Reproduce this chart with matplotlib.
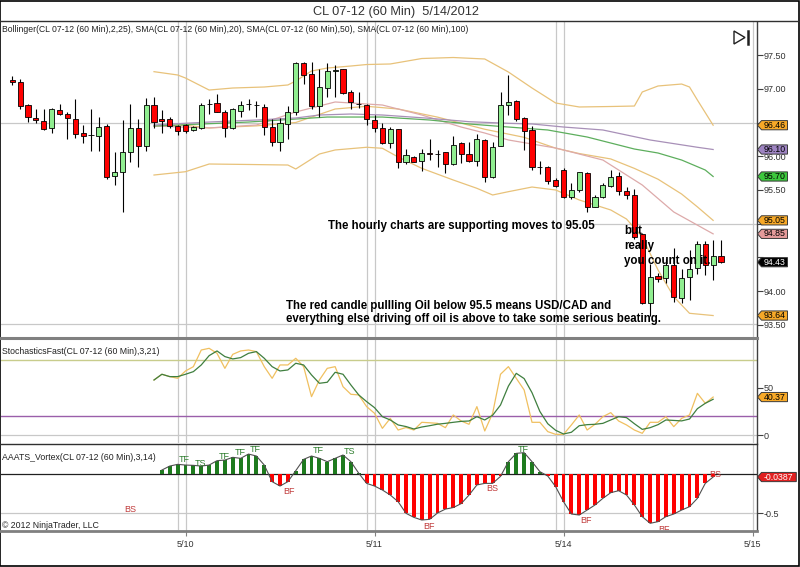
import matplotlib
matplotlib.use('Agg')
import matplotlib.pyplot as plt
import numpy as np
from matplotlib.patches import Polygon, Rectangle
from matplotlib.lines import Line2D

plt.rcParams['font.family'] = ['Liberation Sans', 'DejaVu Sans']

# ---------------- data ----------------
title = "CL 07-12 (60 Min)  5/14/2012"
date_ticks = [22, 46, 70, 94]
date_labels = ['5/10', '5/11', '5/14', '5/15']
session_lines = [21, 22, 45, 46, 69, 70, 94]
price_ticks = [93.5, 94.0, 94.5, 95.0, 95.5, 96.0, 96.5, 97.0, 97.5]
price_tick_labels = ['93.50', '94.00', '', '', '95.50', '96.00', '', '97.00', '97.50']

opens = [97.125, 97.095, 96.759, 96.567, 96.522, 96.414, 96.685, 96.62, 96.552, 96.344,
         96.315, 96.30, 96.448, 95.703, 95.762, 96.058, 96.414, 96.152, 96.759, 96.547,
         96.552, 96.448, 96.457, 96.384, 96.423, 96.77, 96.784, 96.65, 96.414, 96.675,
         96.77, 96.76, 96.735, 96.428, 96.216, 96.478, 96.66, 97.386, 97.214, 96.75,
         97.006, 97.26, 97.29, 96.947, 96.774, 96.76, 96.537, 96.423, 96.19, 96.40,
         95.91, 95.989, 95.93, 96.043, 96.04, 96.058, 95.88, 96.19, 96.033, 95.93,
         96.24, 95.697, 96.157, 96.76, 96.82, 96.562, 96.39, 95.846, 95.846, 95.648,
         95.796, 95.39, 95.50, 95.748, 95.254, 95.39, 95.56, 95.70, 95.485, 95.426,
         94.85, 93.825, 94.22, 94.19, 94.395, 93.90, 94.207, 94.34, 94.695, 94.39, 94.52]
highs = [97.194, 97.144, 96.77, 96.70, 96.70, 96.71, 96.77, 96.65, 96.843, 96.463,
         96.695, 96.577, 96.478, 96.058, 96.537, 96.77, 96.547, 96.858, 96.883, 96.685,
         96.586, 96.463, 96.473, 96.448, 96.794, 96.843, 96.922, 96.685, 96.71, 96.823,
         96.85, 96.82, 96.77, 96.547, 96.562, 96.75, 97.40, 97.40, 97.39, 97.30,
         97.377, 97.35, 97.30, 96.98, 96.947, 96.77, 96.61, 96.498, 96.438, 96.404,
         96.10, 96.004, 96.10, 96.25, 96.09, 96.068, 96.30, 96.206, 96.206, 96.33,
         96.256, 96.206, 96.947, 97.20, 96.84, 96.577, 96.448, 95.934, 95.856, 95.673,
         95.82, 95.60, 95.77, 95.763, 95.426, 95.60, 95.796, 95.77, 95.55, 95.51,
         94.86, 94.41, 94.275, 94.48, 94.636, 94.325, 94.61, 94.75, 94.75, 94.76, 94.76]
lows = [97.056, 96.695, 96.502, 96.50, 96.394, 96.35, 96.61, 96.256, 96.265, 96.20,
        96.083, 96.083, 95.658, 95.574, 95.169, 95.91, 95.846, 96.083, 96.423, 96.35,
        96.414, 96.315, 96.34, 96.379, 96.404, 96.62, 96.65, 96.29, 96.404, 96.586,
        96.68, 96.586, 96.315, 96.157, 96.083, 96.256, 96.61, 97.07, 96.695, 96.577,
        96.873, 96.88, 96.92, 96.695, 96.71, 96.463, 96.354, 96.18, 96.127, 95.82,
        95.88, 95.91, 95.78, 95.944, 95.846, 95.747, 95.87, 95.895, 95.91, 95.856,
        95.62, 95.68, 96.157, 96.61, 96.527, 96.093, 95.796, 95.737, 95.59, 95.55,
        95.377, 95.363, 95.475, 95.18, 95.244, 95.377, 95.54, 95.426, 95.363, 94.77,
        93.81, 93.633, 94.13, 94.12, 93.84, 93.83, 93.87, 94.256, 94.24, 94.17, 94.42]
closes = [97.105, 96.744, 96.577, 96.532, 96.404, 96.70, 96.631, 96.56, 96.33, 96.305,
          96.31, 96.438, 95.698, 95.762, 96.058, 96.414, 96.152, 96.759, 96.512, 96.527,
          96.448, 96.374, 96.374, 96.438, 96.759, 96.768, 96.66, 96.414, 96.695, 96.759,
          96.77, 96.755, 96.438, 96.206, 96.498, 96.66, 97.386, 97.204, 96.744, 97.02,
          97.263, 97.28, 96.93, 96.80, 96.772, 96.547, 96.423, 96.19, 96.404, 95.92,
          96.02, 95.92, 96.043, 96.03, 96.03, 95.88, 96.167, 96.033, 95.934, 96.25,
          95.697, 96.14, 96.76, 96.81, 96.547, 96.38, 95.836, 95.844, 95.638, 95.56,
          95.40, 95.50, 95.763, 95.254, 95.40, 95.574, 95.69, 95.49, 95.426, 94.80,
          93.825, 94.21, 94.18, 94.395, 93.915, 94.20, 94.33, 94.70, 94.39, 94.52, 94.43]

# Bollinger(2,25) and SMAs, read as (bar, price) points
bb_upper_x = [18, 21, 22, 25, 28, 32, 35, 36, 38, 40, 43, 45, 48, 52, 56, 60, 63, 66, 69, 72, 76, 79, 80, 82, 85, 86, 87, 89]
bb_upper_y = [97.253, 97.204, 97.159, 96.981, 97.011, 97.026, 97.056, 97.115, 97.263, 97.307, 97.337, 97.359,
              97.367, 97.448, 97.463, 97.441, 97.248, 97.011, 96.789, 96.730, 96.737, 96.744, 96.952, 97.041,
              97.070, 97.026, 96.833, 96.46]
bb_lower_x = [18, 22, 25, 30, 35, 36, 39, 41, 45, 47, 49, 52, 56, 59, 61, 63, 66, 69, 72, 76, 78, 79, 80, 82, 84, 86, 89]
bb_lower_y = [95.722, 95.771, 95.885, 95.878, 95.870, 95.811, 96.033, 96.093, 96.133, 96.118, 95.989, 95.821,
              95.648, 95.525, 95.426, 95.475, 95.544, 95.50, 95.352, 95.204, 95.07, 94.937, 94.804, 94.315,
              93.919, 93.673, 93.64]
bb_mid_x = [18, 22, 25, 31, 36, 41, 45, 49, 54, 60, 65, 69, 72, 76, 79, 82, 85, 87, 89]
bb_mid_y = [96.45, 96.46, 96.42, 96.45, 96.50, 96.70, 96.74, 96.70, 96.58, 96.40, 96.28, 96.12, 96.04,
            95.96, 95.82, 95.66, 95.44, 95.25, 95.05]
sma20_x = [18, 25, 31, 36, 41, 47, 52, 57, 60, 63, 69, 75, 80, 84, 89]
sma20_y = [96.448, 96.419, 96.463, 96.656, 96.804, 96.759, 96.611, 96.433, 96.344, 96.241, 96.122, 95.944,
           95.574, 95.174, 94.85]
sma50_x = [18, 30, 40, 47, 53, 58, 63, 68, 73, 79, 82, 85, 88, 89]
sma50_y = [96.448, 96.507, 96.581, 96.581, 96.537, 96.478, 96.433, 96.389, 96.285, 96.107, 96.048, 95.944,
           95.796, 95.70]
sma100_x = [18, 25, 31, 36, 39, 43, 47, 53, 58, 63, 66, 70, 75, 81, 87, 89]
sma100_y = [96.463, 96.507, 96.537, 96.567, 96.611, 96.626, 96.611, 96.562, 96.512, 96.488, 96.478, 96.433,
            96.389, 96.241, 96.133, 96.10]
user_lines = [96.5, 93.51]
user_line_partial = 95.0

# StochasticsFast(3,21), bars 18..89
stoch_start = 18
stoch_k = [58.5, 64.6, 62.1, 60.3, 68.1, 72.7, 90.4, 92.2, 86.9, 70.9, 85.8, 89.4, 90.4, 88.7, 72.7, 60.3,
           74.5, 74.5, 81.6, 72.7, 40.8, 58.5, 70.9, 72.7, 51.4, 43.3, 42.6, 30.2, 23.1, 7.1, 17.7, 5.3,
           8.0, 5.3, 13.5, 13.0, 12.4, 7.8, 21.3, 14.9, 11.4, 30.2, 4.3, 23.1, 64.6, 72.7, 60.3, 47.9,
           13.5, 13.5, 3.6, 0.7, 0.7, 10.7, 21.3, 5.3, 11.4, 19.5, 23.8, 14.9, 10.7, 5.3, 1.8, 13.5,
           13.5, 19.5, 8.9, 17.7, 21.3, 44.3, 33.7, 40.37]
stoch_d = [58.5, 64.6, 62.1, 62.1, 64.6, 67.4, 74.5, 84.4, 89.4, 83.4, 80.9, 82.3, 86.9, 88.7, 81.6, 72.7,
           68.1, 69.2, 76.3, 74.5, 63.9, 55.0, 56.1, 66.7, 64.6, 53.2, 42.6, 35.5, 29.1, 19.5, 16.0, 10.7,
           9.0, 6.4, 8.5, 9.9, 11.5, 12.4, 13.5, 14.5, 14.9, 19.5, 16.0, 21.0, 31.9, 52.0, 65.6, 60.0,
           45.0, 25.0, 12.0, 5.0, 1.1, 2.9, 9.9, 11.0, 11.4, 12.4, 16.0, 19.5, 18.5, 12.0, 6.0, 7.8,
           11.0, 16.0, 15.5, 15.0, 17.0, 28.0, 33.7, 38.0]
stoch_upper, stoch_lower = 80, 20

# AAATS_Vortex(3,14), bars 19..89
vortex_start = 19
vortex = [0.051, 0.102, 0.124, 0.115, 0.111, 0.102, 0.115, 0.171, 0.179, 0.214, 0.201, 0.256, 0.231, 0.115,
          -0.098, -0.154, -0.098, 0.043, 0.188, 0.231, 0.201, 0.158, 0.201, 0.244, 0.158, 0.01, -0.12, -0.154,
          -0.205, -0.269, -0.355, -0.504, -0.556, -0.59, -0.581, -0.50, -0.45, -0.43, -0.38, -0.27, -0.14,
          -0.12, -0.12, -0.03, 0.158, 0.265, 0.274, 0.158, 0.03, -0.026, -0.162, -0.355, -0.513, -0.526,
          -0.462, -0.397, -0.312, -0.239, -0.214, -0.269, -0.397, -0.547, -0.632, -0.611, -0.547, -0.513,
          -0.462, -0.419, -0.312, -0.12, -0.0387]
vortex_labels = [(21.9, 0.18, 'TF'), (23.9, 0.14, 'TS'), (26.9, 0.23, 'TF'), (29.0, 0.27, 'TF'),
                 (30.9, 0.31, 'TF'), (35.1, -0.23, 'BF'), (38.9, 0.30, 'TF'), (42.8, 0.29, 'TS'),
                 (15.0, -0.45, 'BS'), (52.9, -0.67, 'BF'), (61.0, -0.18, 'BS'), (64.9, 0.31, 'TF'),
                 (72.9, -0.59, 'BF'), (82.7, -0.71, 'BF'), (89.3, -0.01, 'BS')]

# ---------------- layout ----------------
W, H = 800, 567
fig = plt.figure(figsize=(W / 100, H / 100), dpi=100)
fig.patch.set_facecolor('white')

def rect(top, bottom, left=1, right=757):
    return [left / W, 1 - bottom / H, (right - left) / W, (bottom - top) / H]

axp = fig.add_axes(rect(22, 337))
axs = fig.add_axes(rect(339, 443))
axv = fig.add_axes(rect(444, 530))

XL = (-1.43, 94.57)
GRID = '#C8C8C8'
for ax in (axp, axs, axv):
    ax.set_xlim(*XL)
    for s in ('top', 'left', 'bottom'):
        ax.spines[s].set_visible(False)
    ax.spines['right'].set_color('#404040')
    ax.spines['right'].set_linewidth(1.0)
    ax.yaxis.tick_right()
    ax.tick_params(axis='y', length=4, width=0.8, color='#404040', labelsize=6.5,
                   labelcolor='#333333', pad=1)
    ax.tick_params(axis='x', bottom=False, labelbottom=False)
    for b in session_lines:
        ax.axvline(b, color=GRID, lw=0.9, zorder=0)

# ---- price panel ----
axp.set_ylim(93.322, 97.989)
axp.set_yticks(price_ticks)
axp.set_yticklabels(price_tick_labels)
for u in user_lines:
    axp.axhline(u, color=GRID, lw=0.9, zorder=0)
axp.hlines(user_line_partial, 70, XL[1], color=GRID, lw=0.9, zorder=0)

o, h, l, c = map(np.array, (opens, highs, lows, closes))
idx = np.arange(len(o))
up = c > o
axp.vlines(idx, l, h, color='black', lw=0.8, zorder=3)
axp.bar(idx, np.maximum(np.abs(c - o), 0.004), bottom=np.minimum(o, c), width=0.64,
        color=np.where(up, '#90EE90', '#FF0000'), edgecolor='black', linewidth=0.6, zorder=4)

BB = '#E8C27A'
axp.plot(bb_upper_x, bb_upper_y, color=BB, lw=0.9, zorder=2)
axp.plot(bb_lower_x, bb_lower_y, color=BB, lw=0.9, zorder=2)
axp.plot(bb_mid_x, bb_mid_y, color=BB, lw=0.9, zorder=2)
axp.plot(sma20_x, sma20_y, color='#DDAAAA', lw=0.9, zorder=2)
axp.plot(sma50_x, sma50_y, color='#5DAE5D', lw=0.9, zorder=2)
axp.plot(sma100_x, sma100_y, color='#A890B8', lw=0.9, zorder=2)

axp.text(40.1, 94.967, 'The hourly charts are supporting moves to 95.05', fontsize=8.3,
         fontweight='bold', va='center', ha='left', zorder=6)
axp.text(77.7, 94.975, 'but\nreally\nyou count on it.', fontsize=8.3, fontweight='bold',
         va='top', ha='left', linespacing=1.3, zorder=6)
axp.text(34.8, 93.685, 'The red candle pullling Oil below 95.5 means USD/CAD and\n'
         'everything else driving off oil is above to take some serious beating.',
         fontsize=8.3, fontweight='bold', va='center', ha='left', linespacing=1.15, zorder=6)

# ---- stochastics panel ----
axs.set_ylim(-8.5, 102.1)
axs.set_yticks([0, 50])
axs.set_yticklabels(['0', '50'])
axs.axhline(0, color=GRID, lw=0.9, zorder=0)
axs.axhline(stoch_upper, color='#C8CC8C', lw=1.0, zorder=1)
axs.axhline(stoch_lower, color='#9A5FAA', lw=1.0, zorder=1)
sx = np.arange(stoch_start, stoch_start + len(stoch_k))
axs.plot(sx, stoch_k, color='#F0C060', lw=0.9, zorder=3)
axs.plot(sx, stoch_d, color='#3F7F3F', lw=0.9, zorder=4)

# ---- vortex panel ----
axv.set_ylim(-0.718, 0.385)
axv.set_yticks([-0.5])
axv.set_yticklabels(['-0.5'])
axv.axhline(-0.5, color=GRID, lw=0.9, zorder=0)
axv.axhline(0, color='#202020', lw=0.9, zorder=1)
vx = np.arange(vortex_start, vortex_start + len(vortex))
vv = np.array(vortex)
axv.bar(vx, vv, width=0.5, color=np.where(vv >= 0, '#1E7B1E', '#FF0000'), zorder=2)
axv.plot(vx, vv, color='#505050', lw=0.8, zorder=3)
for bx, by, t in vortex_labels:
    axv.text(bx, by, t, fontsize=6.5, ha='center', va='center',
             color='#2E7D2E' if t.startswith('T') else '#C03A3A', zorder=5, clip_on=True)
axv.set_xticks(date_ticks)
axv.set_xticklabels(date_labels)
axv.tick_params(axis='x', bottom=True, labelbottom=True, length=4, width=0.8, color='#808080',
                labelsize=6.5, labelcolor='#333333', pad=3)

# ---------------- decorations (pixel coords) ----------------
def fx(px): return px / W
def fy(py): return 1 - py / H

def hline(py, x0, x1, color, lw):
    fig.add_artist(Line2D([fx(x0), fx(x1)], [fy(py), fy(py)], color=color, lw=lw,
                          transform=fig.transFigure))

hline(21, 0, W, '#303030', 1.0)
hline(338, 0, 757, '#808080', 2.2)
hline(443.6, 0, 757, '#303030', 1.0)
hline(530.5, 0, 757, '#808080', 2.0)
fig.add_artist(Rectangle((0.0005, 0.001), 0.998, 0.998, fill=False, ec='black', lw=1.2,
                         transform=fig.transFigure))

fig.text(0.495, fy(12), title, ha='center', va='center', fontsize=9.2, color='#333333')
fig.text(fx(2), fy(30), 'Bollinger(CL 07-12 (60 Min),2,25), SMA(CL 07-12 (60 Min),20), '
         'SMA(CL 07-12 (60 Min),50), SMA(CL 07-12 (60 Min),100)', fontsize=6.2, va='center',
         color='#222222')
fig.text(fx(2), fy(352), 'StochasticsFast(CL 07-12 (60 Min),3,21)', fontsize=6.3, va='center',
         color='#222222')
fig.text(fx(2), fy(458), 'AAATS_Vortex(CL 07-12 (60 Min),3,14)', fontsize=6.3, va='center',
         color='#222222')
fig.text(fx(2), fy(525), '\u00a9 2012 NinjaTrader, LLC', fontsize=6.3, va='center', color='#222222')

# "go to end" icon
fig.add_artist(Polygon([[fx(734), fy(31)], [fx(745), fy(37.5)], [fx(734), fy(44)]], closed=True,
                       fill=False, ec='#202020', lw=1.0, transform=fig.transFigure))
fig.add_artist(Line2D([fx(747.5), fx(747.5)], [fy(31), fy(44)], color='#202020', lw=1.8,
                      transform=fig.transFigure))

# value tags on the right axis
def tag(ax, val, txt, fc, tc='black'):
    ydisp = ax.transData.transform((0, val))[1]
    yp = H - ydisp
    w = 4 + 4.4 * len(txt)
    x0 = 757.5
    pts = [[fx(x0), fy(yp)], [fx(x0 + 4), fy(yp - 4.6)], [fx(x0 + 4 + w), fy(yp - 4.6)],
           [fx(x0 + 4 + w), fy(yp + 4.6)], [fx(x0 + 4), fy(yp + 4.6)]]
    fig.add_artist(Polygon(pts, closed=True, fc=fc, ec='#3A3A3A', lw=0.7,
                           transform=fig.transFigure, zorder=5))
    fig.text(fx(x0 + 4 + w / 2), fy(yp), txt, ha='center', va='center', fontsize=6.3,
             color=tc, zorder=6)

tag(axp, bb_upper_y[-1], f'{bb_upper_y[-1]:.2f}', '#F7A928')
tag(axp, sma100_y[-1], f'{sma100_y[-1]:.2f}', '#9E84C2')
tag(axp, sma50_y[-1], f'{sma50_y[-1]:.2f}', '#3CC83C')
tag(axp, bb_mid_y[-1], f'{bb_mid_y[-1]:.2f}', '#F7A928')
tag(axp, sma20_y[-1], f'{sma20_y[-1]:.2f}', '#E49A9A')
tag(axp, closes[-1], f'{closes[-1]:.2f}', '#000000', 'white')
tag(axp, bb_lower_y[-1], f'{bb_lower_y[-1]:.2f}', '#F7A928')
tag(axs, stoch_k[-1], f'{stoch_k[-1]:.2f}', '#F7A928')
tag(axv, vortex[-1], f'{vortex[-1]:.4f}', '#E02020', 'white')

fig.savefig('out.png', dpi=100, facecolor='white')
